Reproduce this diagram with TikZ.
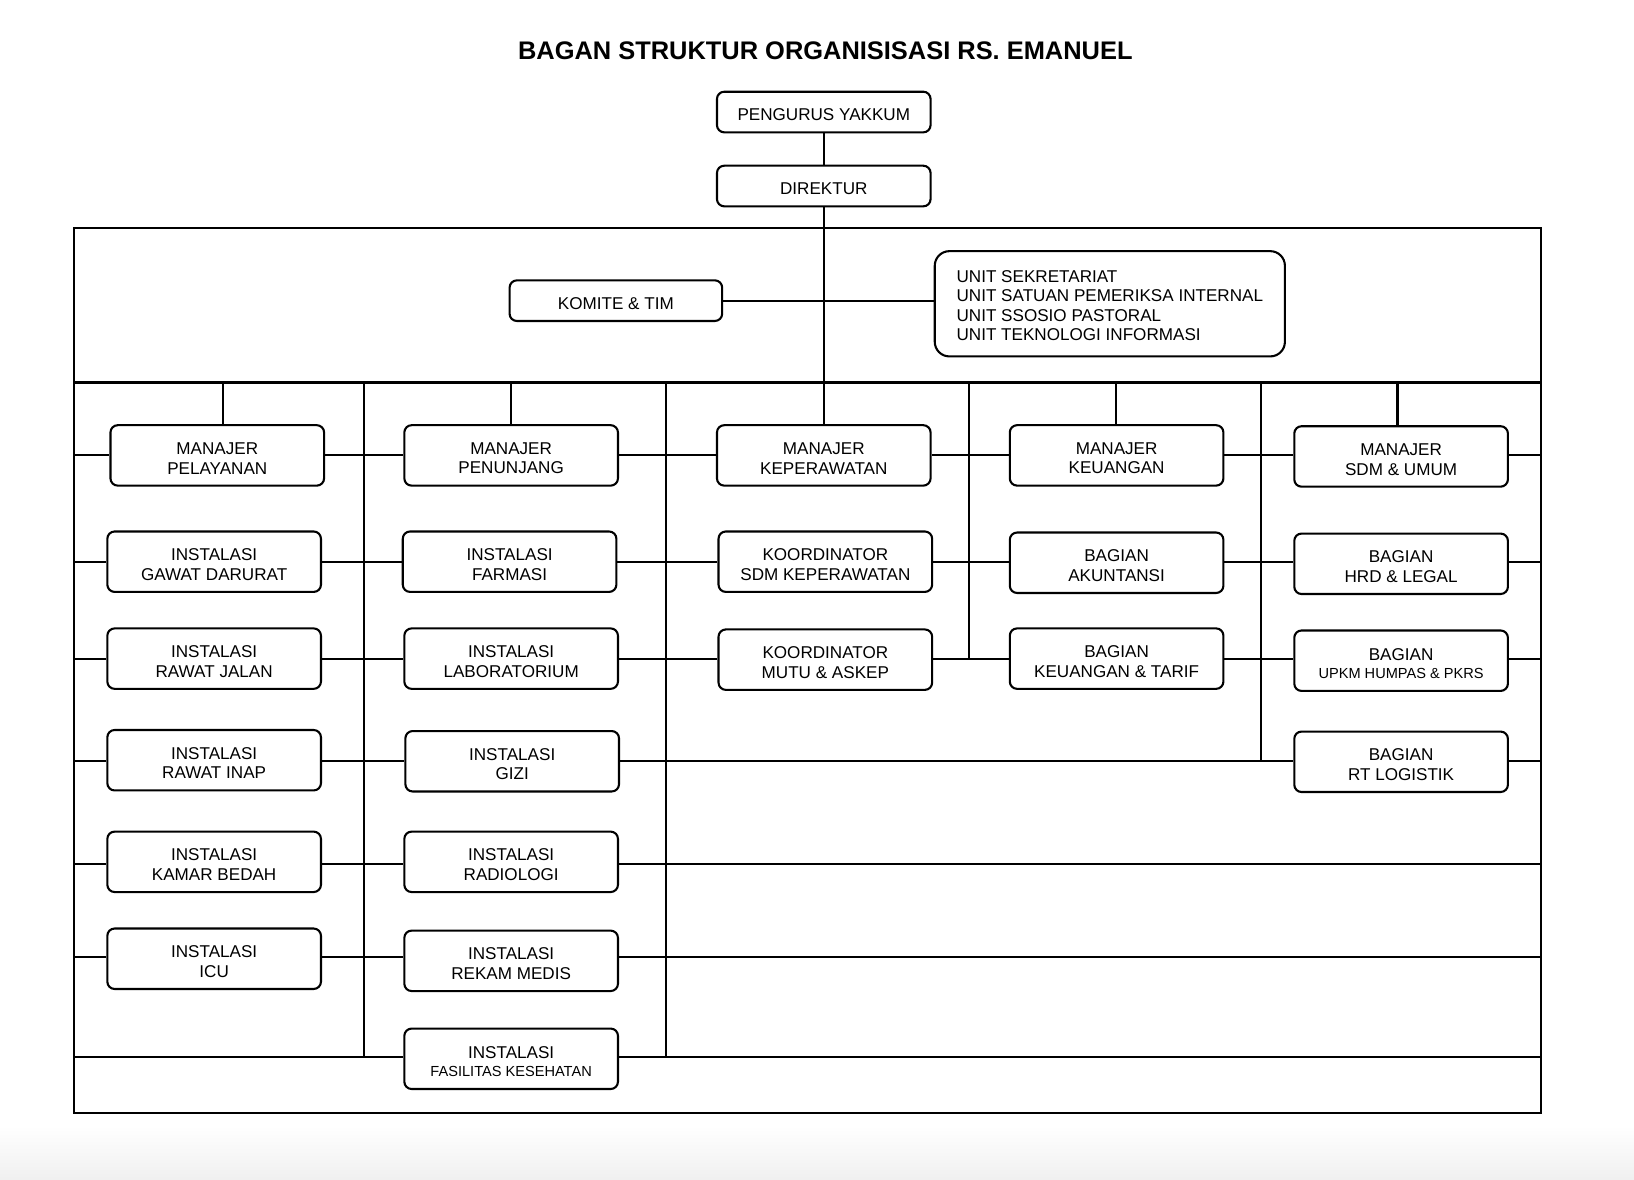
\documentclass[tikz,border=0pt]{standalone}
\usepackage{fontspec}
\setmainfont{Liberation Sans}
\usetikzlibrary{calc}
\begin{document}
\begin{tikzpicture}[x=0.5pt,y=-0.5pt,
  rh/.store in=\rh, rh=17.9pt,
  box/.style={draw, line width=1pt, rounded corners=3.5pt, minimum width=102.5pt, minimum height=29pt, inner sep=0pt, align=center, font=\fontsize{8.2}{9.5}\selectfont, rh=17.9pt, execute at begin node={\rule{0pt}{\rh}}},
  topbox/.style={box, minimum height=19.5pt, rh=8.3pt},
  smallbox/.style={box, rh=16.9pt},
  ln/.style={line width=1pt}]
\useasboundingbox (0,0) rectangle (1568,1132);
\shade[top color=white, bottom color=black!6] (0,1080) rectangle (1568,1132);

\node[font=\bfseries\fontsize{12.2}{14}\selectfont, anchor=base] (title) at (792,57.5) {BAGAN STRUKTUR ORGANISISASI RS. EMANUEL};

% top
\node[topbox] (peng) at (790.5,107.5) {PENGURUS YAKKUM};
\node[topbox] (dir) at (790.5,178.5) {DIREKTUR};
\node[topbox, minimum width=102pt] (kom) at (591,288.5) {KOMITE \& TIM};
\node[box, rounded corners=7pt, minimum width=168pt, minimum height=50.5pt, align=left, font=\fontsize{8.2}{9.35}\selectfont, rh=35.5pt] (unit) at (1065,291.5) {UNIT SEKRETARIAT\\UNIT SATUAN PEMERIKSA INTERNAL\\UNIT SSOSIO PASTORAL\\UNIT TEKNOLOGI INFORMASI};

% managers (row 1)
\node[box] (mpl) at (208.5,437) {MANAJER\\PELAYANAN};
\node[box] (mpn) at (490.5,437) {MANAJER\\PENUNJANG};
\node[box] (mk) at (790.5,437) {MANAJER\\KEPERAWATAN};
\node[box] (mku) at (1071.5,437) {MANAJER\\KEUANGAN};
\node[box] (msdm) at (1344.5,438) {MANAJER\\SDM \& UMUM};

% row 2
\node[box] (igd) at (205.5,539) {INSTALASI\\GAWAT DARURAT};
\node[box] (far) at (489,539) {INSTALASI\\FARMASI};
\node[box] (ksdm) at (792,539) {KOORDINATOR\\SDM KEPERAWATAN};
\node[box] (akt) at (1071.5,540) {BAGIAN\\AKUNTANSI};
\node[box] (hrd) at (1344.5,541) {BAGIAN\\HRD \& LEGAL};

% row 3
\node[box] (rj) at (205.5,632) {INSTALASI\\RAWAT JALAN};
\node[box] (lab) at (490.5,632) {INSTALASI\\LABORATORIUM};
\node[box] (mutu) at (792,633) {KOORDINATOR\\MUTU \& ASKEP};
\node[box] (ktar) at (1071.5,632) {BAGIAN\\KEUANGAN \& TARIF};
\node[smallbox] (upkm) at (1344.5,634) {BAGIAN\\[-1pt]{\fontsize{7}{8.5}\selectfont UPKM HUMPAS \& PKRS}};

% row 4
\node[box] (ri) at (205.5,729.5) {INSTALASI\\RAWAT INAP};
\node[box] (gizi) at (491.5,730.5) {INSTALASI\\GIZI};
\node[box] (rt) at (1344.5,731) {BAGIAN\\RT LOGISTIK};

% row 5
\node[box] (kb) at (205.5,827) {INSTALASI\\KAMAR BEDAH};
\node[box] (rad) at (490.5,827) {INSTALASI\\RADIOLOGI};

% row 6
\node[box] (icu) at (205.5,920) {INSTALASI\\ICU};
\node[box] (rm) at (490.5,922) {INSTALASI\\REKAM MEDIS};

% row 7
\node[smallbox] (fas) at (490.5,1016) {INSTALASI\\[-1pt]{\fontsize{7}{8.5}\selectfont FASILITAS KESEHATAN}};

% frame and grid
\coordinate (TL) at (71,219);
\coordinate (BR) at (1479,1068);
\draw[ln] (TL) rectangle (BR);
\coordinate (hL) at (71,367);
\coordinate (hR) at (1479,367);
\draw[ln] (hL) -- (hR);

\coordinate (v1t) at (349,367); \coordinate (v1b) at (349,1015);
\coordinate (v2t) at (639,367); \coordinate (v2b) at (639,1015);
\coordinate (v3t) at (930,367); \coordinate (v3b) at (930,632);
\coordinate (v4t) at (1210,367); \coordinate (v4b) at (1210,730);
\draw[ln] (v1t) -- (v1b);
\draw[ln] (v2t) -- (v2b);
\draw[ln] (v3t) -- (v3b);
\draw[ln] (v4t) -- (v4b);

% stubs
\coordinate (s1) at (214,367);
\coordinate (s2) at (490,367);
\coordinate (s4) at (1071,367);
\coordinate (s5) at (1341,367);
\draw[ln] (s1) -- (s1 |- mpl.north);
\draw[ln] (s2) -- (s2 |- mpn.north);
\draw[ln] (s4) -- (s4 |- mku.north);
\draw[ln] (s5) -- (s5 |- msdm.north);

% top connections
\draw[ln] (peng.south) -- (dir.north);
\draw[ln] (dir.south) -- (mk.north);
\draw[ln] (kom.east) -- (kom.east -| unit.west);

% rows
\coordinate (L1) at (71,437); \coordinate (R1) at (1479,437);
\coordinate (L2) at (71,539); \coordinate (R2) at (1479,539);
\coordinate (L3) at (71,632); \coordinate (R3) at (1479,632);
\coordinate (L4) at (71,730); \coordinate (R4) at (1479,730);
\coordinate (L5) at (71,829); \coordinate (R5) at (1479,829);
\coordinate (L6) at (71,918); \coordinate (R6) at (1479,918);
\coordinate (L7) at (71,1014); \coordinate (R7) at (1479,1014);

\draw[ln] (L1) -- (L1 -| mpl.west) (mpl.east |- L1) -- (L1 -| mpn.west) (mpn.east |- L1) -- (L1 -| mk.west)
  (mk.east |- L1) -- (L1 -| mku.west) (mku.east |- L1) -- (L1 -| msdm.west) (msdm.east |- L1) -- (R1);
\draw[ln] (L2) -- (L2 -| igd.west) (igd.east |- L2) -- (L2 -| far.west) (far.east |- L2) -- (L2 -| ksdm.west)
  (ksdm.east |- L2) -- (L2 -| akt.west) (akt.east |- L2) -- (L2 -| hrd.west) (hrd.east |- L2) -- (R2);
\draw[ln] (L3) -- (L3 -| rj.west) (rj.east |- L3) -- (L3 -| lab.west) (lab.east |- L3) -- (L3 -| mutu.west)
  (mutu.east |- L3) -- (L3 -| ktar.west) (ktar.east |- L3) -- (L3 -| upkm.west) (upkm.east |- L3) -- (R3);
\draw[ln] (L4) -- (L4 -| ri.west) (ri.east |- L4) -- (L4 -| gizi.west) (gizi.east |- L4) -- (L4 -| rt.west) (rt.east |- L4) -- (R4);
\draw[ln] (L5) -- (L5 -| kb.west) (kb.east |- L5) -- (L5 -| rad.west) (rad.east |- L5) -- (R5);
\draw[ln] (L6) -- (L6 -| icu.west) (icu.east |- L6) -- (L6 -| rm.west) (rm.east |- L6) -- (R6);
\draw[ln] (L7) -- (L7 -| fas.west) (fas.east |- L7) -- (R7);
\end{tikzpicture}
\end{document}
